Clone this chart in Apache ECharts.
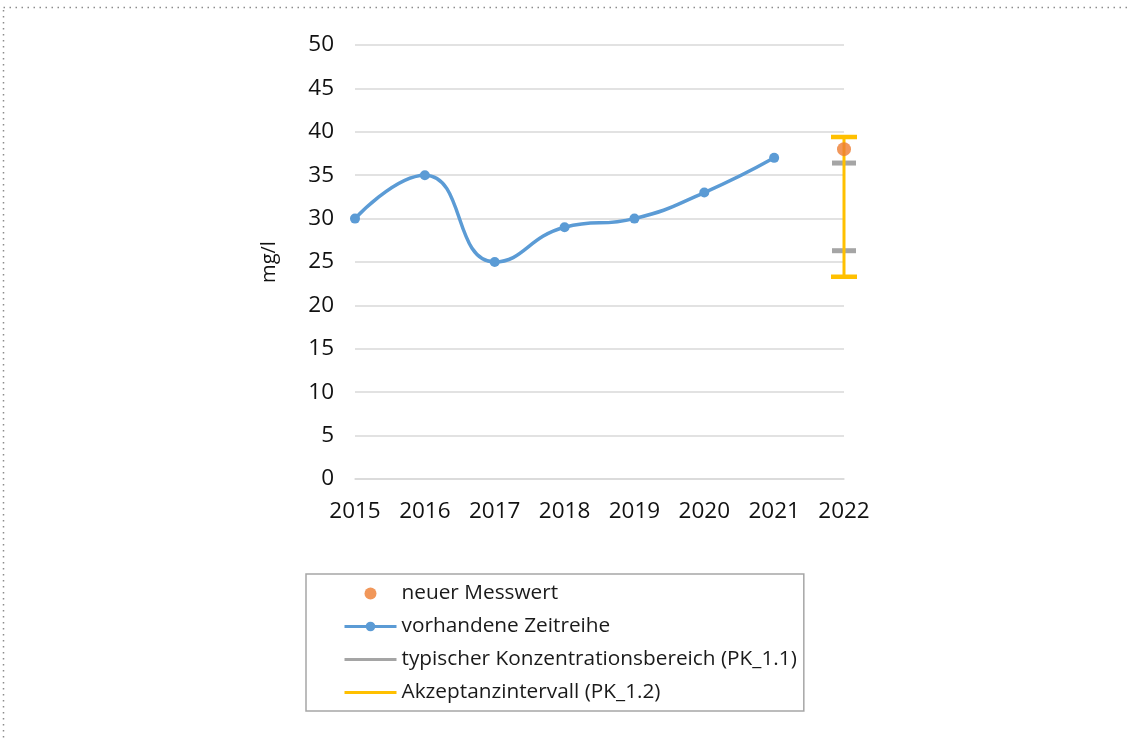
<!DOCTYPE html>
<html>
<head>
<meta charset="utf-8">
<script src="https://cdn.jsdelivr.net/npm/echarts@6/dist/echarts.min.js"></script>
<style>
  html, body { margin: 0; padding: 0; background: #fff; }
  #chart { width: 1128px; height: 738px; }
</style>
</head>
<body>
<div id="chart"></div>
<script>
// Jahre (x-Achse)
const years = ['2015', '2016', '2017', '2018', '2019', '2020', '2021', '2022']
// vorhandene Zeitreihe (mg/l)
const zeitreihe = [30, 35, 25, 29, 30, 33, 37, null]
// neuer Messwert 2022
const neuerMesswert = [null, null, null, null, null, null, null, 38]
// typischer Konzentrationsbereich (PK_1.1): [Jahr-Index, unten, oben]
const typischBereich = [[7, 26.3, 36.4]]
// Akzeptanzintervall (PK_1.2): [Jahr-Index, unten, oben]
const akzeptanz = [[7, 23.3, 39.4]]

const FONT = 'Open Sans'
const chart = echarts.init(document.getElementById('chart'))

const option = {
  backgroundColor: '#fff',
  textStyle: { fontFamily: FONT },
  graphic: [{
    type: 'rect',
    shape: { x: 3.5, y: 7.5, width: 1200, height: 800 },
    style: { fill: 'none', stroke: '#8c8c8c', lineWidth: 1.5, lineDash: [1.5, 4.5] },
    silent: true
  }],
  grid: { left: 355, right: 284, top: 45, bottom: 259 },
  legend: {
    orient: 'vertical',
    left: 306,
    top: 574,
    padding: [9, 7, 8, 37],
    itemWidth: 52,
    itemHeight: 12,
    itemGap: 12,
    borderColor: '#a6a6a6',
    borderWidth: 1.5,
    lineStyle: { width: 3 },
    textStyle: { fontFamily: FONT, fontSize: 20.8, color: '#1a1a1a', lineHeight: 21 },
    data: [
      { name: 'neuer Messwert' },
      { name: 'vorhandene Zeitreihe' },
      { name: 'typischer Konzentrationsbereich (PK_1.1)', icon: 'path://M0,0 L52,0 L52,3 L0,3 Z' },
      { name: 'Akzeptanzintervall (PK_1.2)', icon: 'path://M0,0 L52,0 L52,3 L0,3 Z' }
    ]
  },
  xAxis: {
    type: 'category',
    data: years,
    boundaryGap: false,
    axisLine: { show: true, lineStyle: { color: '#d9d9d9', width: 1.5 } },
    axisTick: { show: false },
    axisLabel: { fontFamily: FONT, fontSize: 22.5, color: '#111', margin: 21 }
  },
  yAxis: {
    type: 'value',
    min: 0,
    max: 50,
    interval: 5,
    name: 'mg/l',
    nameLocation: 'middle',
    nameGap: 76,
    nameTextStyle: { fontFamily: FONT, fontSize: 20, color: '#111' },
    axisLine: { show: false },
    axisTick: { show: false },
    splitLine: { lineStyle: { color: '#d9d9d9', width: 1.5 } },
    axisLabel: { fontFamily: FONT, fontSize: 22.5, color: '#111', margin: 21 }
  },
  series: [
    {
      name: 'typischer Konzentrationsbereich (PK_1.1)',
      type: 'custom',
      z: 2,
      itemStyle: { color: '#a5a5a5' },
      data: typischBereich,
      renderItem: (params, api) => {
        const lo = api.coord([api.value(0), api.value(1)])
        const hi = api.coord([api.value(0), api.value(2)])
        const w = 12
        const style = { stroke: '#a5a5a5', lineWidth: 5 }
        return {
          type: 'group',
          children: [
            { type: 'line', shape: { x1: lo[0] - w, y1: lo[1], x2: lo[0] + w, y2: lo[1] }, style },
            { type: 'line', shape: { x1: hi[0] - w, y1: hi[1], x2: hi[0] + w, y2: hi[1] }, style }
          ]
        }
      }
    },
    {
      name: 'Akzeptanzintervall (PK_1.2)',
      type: 'custom',
      z: 3,
      itemStyle: { color: '#ffc000' },
      data: akzeptanz,
      renderItem: (params, api) => {
        const lo = api.coord([api.value(0), api.value(1)])
        const hi = api.coord([api.value(0), api.value(2)])
        const w = 13
        return {
          type: 'group',
          children: [
            { type: 'line', shape: { x1: lo[0], y1: lo[1], x2: hi[0], y2: hi[1] }, style: { stroke: '#ffc000', lineWidth: 3 } },
            { type: 'line', shape: { x1: lo[0] - w, y1: lo[1], x2: lo[0] + w, y2: lo[1] }, style: { stroke: '#ffc000', lineWidth: 4.5 } },
            { type: 'line', shape: { x1: hi[0] - w, y1: hi[1], x2: hi[0] + w, y2: hi[1] }, style: { stroke: '#ffc000', lineWidth: 4.5 } }
          ]
        }
      }
    },
    {
      name: 'vorhandene Zeitreihe',
      type: 'line',
      z: 4,
      smooth: 0.5,
      data: zeitreihe,
      symbol: 'circle',
      symbolSize: 10,
      color: '#5b9bd5',
      lineStyle: { color: '#5b9bd5', width: 3.5 },
      itemStyle: { color: '#5b9bd5' }
    },
    {
      name: 'neuer Messwert',
      type: 'scatter',
      z: 5,
      data: neuerMesswert,
      symbol: 'circle',
      symbolSize: 14,
      itemStyle: { color: '#ed7d31' }
    }
  ]
}

chart.setOption(option)
</script>
</body>
</html>
